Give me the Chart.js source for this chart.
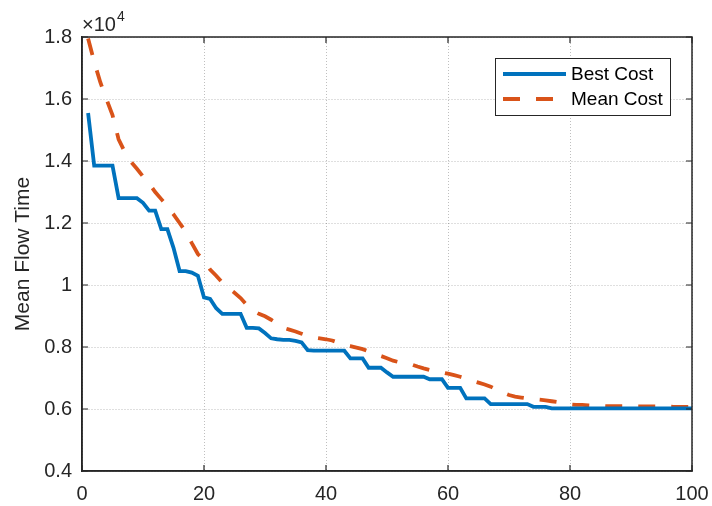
<!DOCTYPE html>
<html>
<head>
<meta charset="utf-8">
<script src="https://cdn.jsdelivr.net/npm/chart.js@4"></script>
<style>
html,body{margin:0;padding:0;background:#fff;}
#wrap{width:712px;height:506px;}
</style>
</head>
<body>
<div id="wrap"><canvas id="costChart" width="712" height="506"></canvas></div>
<script>
/* -----------------------------
   DATA
------------------------------ */
const iterations = Array.from({length:100},(_,i)=>i+1);

const bestCost = [
15550,13850,13850,13850,13850,12800,12800,12800,12800,12650,
12400,12400,11800,11800,11200,10450,10450,10400,10300,9600,
9550,9250,9070,9070,9070,9070,8620,8620,8600,8450,
8280,8250,8230,8230,8200,8150,7900,7880,7880,7880,
7880,7880,7880,7630,7630,7630,7330,7330,7330,7180,
7040,7040,7040,7040,7040,7040,6960,6960,6960,6680,
6680,6680,6340,6340,6340,6340,6160,6160,6160,6160,
6160,6160,6160,6070,6070,6070,6020,6020,6020,6020,
6020,6020,6020,6020,6020,6020,6020,6020,6020,6020,
6020,6020,6020,6020,6020,6020,6020,6020,6020,6020
];

const meanCost = [
17950,17200,16540,16000,15480,14700,14300,13980,13750,13500,
13280,13000,12770,12540,12280,12000,11720,11350,11000,10800,
10500,10300,10080,9900,9750,9580,9360,9170,9070,8990,
8880,8750,8620,8560,8500,8430,8360,8310,8280,8250,
8210,8140,8070,8030,7980,7930,7860,7790,7710,7640,
7560,7510,7480,7440,7370,7310,7260,7220,7180,7140,
7090,7040,6980,6910,6850,6790,6720,6620,6530,6450,
6400,6370,6340,6320,6300,6280,6250,6220,6180,6150,
6130,6130,6120,6110,6100,6090,6090,6090,6090,6085,
6085,6080,6080,6080,6075,6075,6070,6070,6070,6070
];

const xTicks = [0,20,40,60,80,100];
const yTicks = [4000,6000,8000,10000,12000,14000,16000,18000];
const seriesNames = ["Best Cost","Mean Cost"];
const seriesColors = ["#0072BD","#D95319"];

const FONT = "'Liberation Sans', Arial, Helvetica, sans-serif";
const INK = "#262626";

/* -----------------------------
   FRAME, TICKS, x10^4, LEGEND
------------------------------ */
const matlabFrame = {
id:"matlabFrame",
afterDraw(chart){
const ctx = chart.ctx;
const a = chart.chartArea;
const xs = chart.scales.x, ys = chart.scales.y;
ctx.save();
ctx.strokeStyle = INK;
ctx.lineWidth = 1.5;
ctx.strokeRect(a.left, a.top, a.right-a.left, a.bottom-a.top);

// inner ticks on all four sides
ctx.lineWidth = 1.2;
ctx.beginPath();
xTicks.forEach(v=>{
let px = xs.getPixelForValue(v);
ctx.moveTo(px,a.bottom); ctx.lineTo(px,a.bottom-6);
ctx.moveTo(px,a.top); ctx.lineTo(px,a.top+6);
});
yTicks.forEach(v=>{
let py = ys.getPixelForValue(v);
ctx.moveTo(a.left,py); ctx.lineTo(a.left+6,py);
ctx.moveTo(a.right,py); ctx.lineTo(a.right-6,py);
});
ctx.stroke();

// exponent label
ctx.fillStyle = INK;
ctx.textBaseline = "alphabetic";
ctx.textAlign = "left";
ctx.font = "20px " + FONT;
ctx.fillText("\u00d710", a.left, a.top-6);
let w = ctx.measureText("\u00d710").width;
ctx.font = "14px " + FONT;
ctx.fillText("4", a.left+w+1, a.top-16);

// legend box
const bx = 495, by = 58, bw = 175, bh = 57;
ctx.fillStyle = "#fff";
ctx.fillRect(bx,by,bw,bh);
ctx.strokeStyle = INK;
ctx.lineWidth = 1;
ctx.strokeRect(bx+0.5,by+0.5,bw,bh);
chart.data.datasets.forEach((ds,i)=>{
let ly = by + 16 + i*25;
ctx.beginPath();
ctx.strokeStyle = ds.borderColor;
ctx.lineWidth = ds.borderWidth;
ctx.setLineDash(ds.borderDash || []);
ctx.moveTo(bx+8,ly); ctx.lineTo(bx+71,ly);
ctx.stroke();
ctx.setLineDash([]);
ctx.fillStyle = "#000";
ctx.font = "19px " + FONT;
ctx.textBaseline = "middle";
ctx.fillText(ds.label, bx+76, ly+1);
});
ctx.restore();
}
};

/* -----------------------------
   CHART
------------------------------ */
new Chart(document.getElementById("costChart"),{
type:"line",
data:{
labels:iterations,
datasets:[{
label:seriesNames[0],
data:iterations.map((it,i)=>({x:it,y:bestCost[i]})),
borderColor:seriesColors[0],
borderWidth:3.8,
pointRadius:0,
tension:0,
clip:false
},{
label:seriesNames[1],
data:iterations.map((it,i)=>({x:it,y:meanCost[i]})),
borderColor:seriesColors[1],
borderWidth:3.8,
borderDash:[17,16],
pointRadius:0,
tension:0,
clip:false
}]
},
options:{
responsive:false,
animation:false,
devicePixelRatio:1,
layout:{padding:{top:37,right:20,left:0,bottom:0}},
plugins:{legend:{display:false},tooltip:{enabled:false}},
scales:{
x:{
type:"linear",
min:0,max:100,
afterBuildTicks(s){ s.ticks = xTicks.map(v=>({value:v})); },
afterFit(s){ s.height = 35; s.paddingLeft = 0; s.paddingRight = 0; },
ticks:{color:INK,font:{family:FONT,size:20},padding:11,maxRotation:0},
grid:{color:"rgba(0,0,0,0.25)",lineWidth:1,drawTicks:false},
border:{display:true,color:INK,width:1.5,dash:[1,2]}
},
y:{
min:4000,max:18000,
afterBuildTicks(s){ s.ticks = yTicks.map(v=>({value:v})); },
afterFit(s){ s.width = 82; s.paddingTop = 0; s.paddingBottom = 0; },
ticks:{
color:INK,font:{family:FONT,size:20},padding:10,
callback:v=>String(parseFloat((v/10000).toFixed(1)))
},
title:{display:true,text:"Mean Flow Time",color:INK,font:{family:FONT,size:21},padding:{top:11,bottom:0}},
grid:{color:"rgba(0,0,0,0.25)",lineWidth:1,drawTicks:false},
border:{display:true,color:INK,width:1.5,dash:[1,2]}
}
}
},
plugins:[matlabFrame]
});
</script>
</body>
</html>
